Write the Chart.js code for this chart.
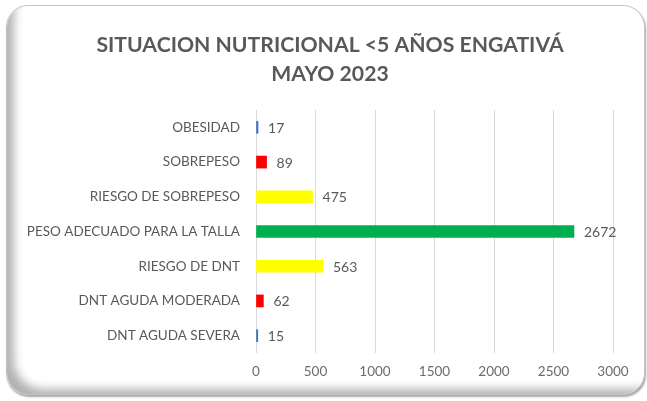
<!DOCTYPE html>
<html>
<head>
<meta charset="utf-8">
<script src="https://cdn.jsdelivr.net/npm/chart.js@4/dist/chart.umd.min.js"></script>
<style>
  html, body { margin: 0; padding: 0; background: #fff; width: 647px; height: 401px; overflow: hidden; }
  #card {
    position: absolute; left: 6px; top: 5px; width: 637px; height: 388px;
    border-radius: 22px; background: #fff;
    border: 1px solid #c4c4c4;
    box-shadow: inset 15px -13px 10px -8px rgba(0,0,0,0.3), 1px 2px 2px rgba(0,0,0,0.35);
  }
  #c { position: absolute; left: 0; top: 0; }
</style>
</head>
<body>
<div id="card"></div>
<canvas id="c" width="647" height="401"></canvas>
<script>
const categories = ["OBESIDAD", "SOBREPESO", "RIESGO DE SOBREPESO", "PESO ADECUADO PARA LA TALLA", "RIESGO DE DNT", "DNT AGUDA MODERADA", "DNT AGUDA SEVERA"];
const values = [17, 89, 475, 2672, 563, 62, 15];
const barColors = ["#4472C4", "#FF0000", "#FFFF00", "#00B050", "#FFFF00", "#FF0000", "#4472C4"];
const xTicks = [0, 500, 1000, 1500, 2000, 2500, 3000];
const titleLines = ["SITUACION NUTRICIONAL <5 AÑOS ENGATIVÁ", "MAYO 2023"];

const FONT = "Lato, 'Open Sans', sans-serif";

const valueLabels = {
  id: 'valueLabels',
  afterDatasetsDraw(chart) {
    const ctx = chart.ctx;
    const meta = chart.getDatasetMeta(0);
    ctx.save();
    ctx.font = "14px " + FONT;
    ctx.fillStyle = "#595959";
    ctx.textAlign = "left";
    ctx.textBaseline = "middle";
    meta.data.forEach((bar, i) => {
      ctx.fillText(String(values[i]), bar.x + 10, bar.y + 1);
    });
    ctx.restore();
  }
};

const centeredTitle = {
  id: 'centeredTitle',
  afterDraw(chart) {
    const ctx = chart.ctx;
    ctx.save();
    ctx.font = "bold 21.2px " + FONT;
    ctx.fillStyle = "#595959";
    ctx.textAlign = "center";
    ctx.textBaseline = "middle";
    titleLines.forEach((t, i) => ctx.fillText(t, 330, 45 + i * 29));
    ctx.restore();
  }
};

new Chart(document.getElementById('c'), {
  type: 'bar',
  data: {
    labels: categories,
    datasets: [{
      data: values,
      backgroundColor: barColors,
      borderWidth: 0,
      barThickness: 12
    }]
  },
  options: {
    indexAxis: 'y',
    responsive: false,
    animation: false,
    layout: { padding: { left: 20, right: 34, top: 110, bottom: 0 } },
    plugins: {
      legend: { display: false },
      tooltip: { enabled: false },
      title: { display: false }
    },
    scales: {
      x: {
        min: 0, max: 3000,
        afterBuildTicks(scale) { scale.ticks = xTicks.map(v => ({ value: v })); },
        grid: { color: "#d9d9d9", drawTicks: false, lineWidth: 1 },
        border: { display: false },
        ticks: { color: "#6b6b6b", font: { family: FONT, size: 13.5 }, padding: 11, callback: (v) => String(v) },
        afterFit(scale) { scale.height = 48; }
      },
      y: {
        grid: { display: false, drawTicks: false },
        border: { display: false },
        ticks: { color: "#595959", font: { family: FONT, size: 13.5 }, padding: 16 },
        afterFit(scale) { scale.width = 236; }
      }
    }
  },
  plugins: [valueLabels, centeredTitle]
});
</script>
</body>
</html>
